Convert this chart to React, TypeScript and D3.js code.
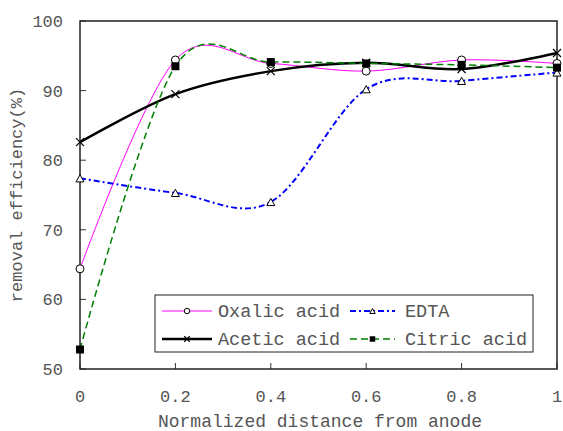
import React, { useEffect, useRef } from "react";
import * as d3 from "d3";

const xs = [0, 0.2, 0.4, 0.6, 0.8, 1];
const oxalic = [64.4, 94.4, 93.9, 92.8, 94.4, 93.9];
const edta = [77.4, 75.3, 74.0, 90.2, 91.4, 92.6];
const acetic = [82.6, 89.5, 92.8, 94.0, 93.1, 95.4];
const citric = [52.8, 93.5, 94.1, 93.9, 93.7, 93.3];

const xTicks = [0, 0.2, 0.4, 0.6, 0.8, 1];
const xTickLabels = ["0", "0.2", "0.4", "0.6", "0.8", "1"];
const yTicks = [50, 60, 70, 80, 90, 100];

const seriesList = [
  { name: "Oxalic acid", values: oxalic, color: "#ff00ff", width: 1, dash: "", marker: "circle" },
  { name: "EDTA", values: edta, color: "#0000ff", width: 2, dash: "6,3,2,3", marker: "triangle" },
  { name: "Acetic acid", values: acetic, color: "#000000", width: 2.5, dash: "", marker: "cross" },
  { name: "Citric acid", values: citric, color: "#008000", width: 1.5, dash: "7,4", marker: "square" },
];

const FONT = "'Liberation Mono', 'Courier New', monospace";
const TEXT = "#555";

const drawMarker = (g, kind, cx, cy, s) => {
  if (kind === "circle") {
    g.append("circle").attr("cx", cx).attr("cy", cy).attr("r", s * 0.5)
      .attr("fill", "#fff").attr("stroke", "#000").attr("stroke-width", 1);
  } else if (kind === "square") {
    g.append("rect").attr("x", cx - s / 2).attr("y", cy - s / 2)
      .attr("width", s).attr("height", s).attr("fill", "#000");
  } else if (kind === "triangle") {
    const h = s * 0.9;
    g.append("path")
      .attr("d", `M${cx},${cy - h / 2}L${cx + s / 2},${cy + h / 2}L${cx - s / 2},${cy + h / 2}Z`)
      .attr("fill", "#fff").attr("stroke", "#000").attr("stroke-width", 1);
  } else {
    const r = s / 2;
    g.append("path")
      .attr("d", `M${cx - r},${cy - r}L${cx + r},${cy + r}M${cx - r},${cy + r}L${cx + r},${cy - r}`)
      .attr("stroke", "#000").attr("stroke-width", 1.2);
  }
};

const App = () => {
  const svgRef = useRef(null);

  useEffect(() => {
    const svg = d3.select(svgRef.current);
    svg.selectAll("*").remove();

    const left = 80, right = 557, top = 21, bottom = 369;
    const x = d3.scaleLinear().domain([0, 1]).range([left, right]);
    const y = d3.scaleLinear().domain([50, 100]).range([bottom, top]);

    // ticks point inward
    const axes = svg.append("g");
    yTicks.forEach((t) => {
      axes.append("line").attr("x1", left).attr("x2", left + 6)
        .attr("y1", y(t)).attr("y2", y(t)).attr("stroke", "#333").attr("stroke-width", 1);
      axes.append("text").attr("x", 63).attr("y", y(t)).attr("dy", "0.35em")
        .attr("text-anchor", "end").attr("font-family", FONT).attr("font-size", 17)
        .attr("fill", TEXT).text(t);
    });
    xTicks.forEach((t, i) => {
      axes.append("line").attr("x1", x(t)).attr("x2", x(t))
        .attr("y1", bottom).attr("y2", bottom - 6).attr("stroke", "#333").attr("stroke-width", 1);
      axes.append("text").attr("x", x(t)).attr("y", 396).attr("dy", "0.35em")
        .attr("text-anchor", "middle").attr("font-family", FONT).attr("font-size", 17)
        .attr("fill", TEXT).text(xTickLabels[i]);
    });

    // smooth curves through the points
    const line = d3.line()
      .x((d) => x(d[0]))
      .y((d) => y(d[1]))
      .curve(d3.curveCardinal.tension(0));

    seriesList.forEach((s) => {
      const pts = xs.map((v, i) => [v, s.values[i]]);
      svg.append("path").attr("d", line(pts)).attr("fill", "none")
        .attr("stroke", s.color).attr("stroke-width", s.width)
        .attr("stroke-dasharray", s.dash || null);
    });

    // frame
    svg.append("rect").attr("x", left).attr("y", top)
      .attr("width", right - left).attr("height", bottom - top)
      .attr("fill", "none").attr("stroke", "#222").attr("stroke-width", 1.5);

    const mk = svg.append("g");
    seriesList.forEach((s) => {
      xs.forEach((v, i) => drawMarker(mk, s.marker, x(v), y(s.values[i]), 8));
    });

    // legend
    const lg = svg.append("g");
    lg.append("rect").attr("x", 155).attr("y", 295).attr("width", 378).attr("height", 57)
      .attr("fill", "#fff").attr("stroke", "#222").attr("stroke-width", 1);
    const cols = [
      { x1: 162, x2: 212, tx: 218 },
      { x1: 350, x2: 395, tx: 405 },
    ];
    const rows = [311, 339];
    seriesList.forEach((s, i) => {
      const c = cols[i % 2];
      const ry = rows[Math.floor(i / 2)];
      lg.append("line").attr("x1", c.x1).attr("x2", c.x2).attr("y1", ry).attr("y2", ry)
        .attr("stroke", s.color).attr("stroke-width", s.width)
        .attr("stroke-dasharray", s.dash || null);
      drawMarker(lg, s.marker, (c.x1 + c.x2) / 2, ry, 5.5);
      lg.append("text").attr("x", c.tx).attr("y", ry).attr("dy", "0.35em")
        .attr("font-family", FONT).attr("font-size", 18.5).attr("fill", TEXT).text(s.name);
    });

    // axis titles
    svg.append("text").attr("x", 320).attr("y", 421).attr("dy", "0.35em")
      .attr("text-anchor", "middle").attr("font-family", FONT).attr("font-size", 18)
      .attr("fill", TEXT).text("Normalized distance from anode");
    svg.append("text").attr("transform", "translate(16,195) rotate(-90)")
      .attr("dy", "0.35em").attr("text-anchor", "middle").attr("font-family", FONT)
      .attr("font-size", 17).attr("fill", TEXT).text("removal efficiency(%)");
  }, []);

  return (
    <svg
      ref={svgRef}
      width={563}
      height={431}
      style={{ position: "absolute", left: 0, top: 0, background: "#fff" }}
    ></svg>
  );
};

export default App;
